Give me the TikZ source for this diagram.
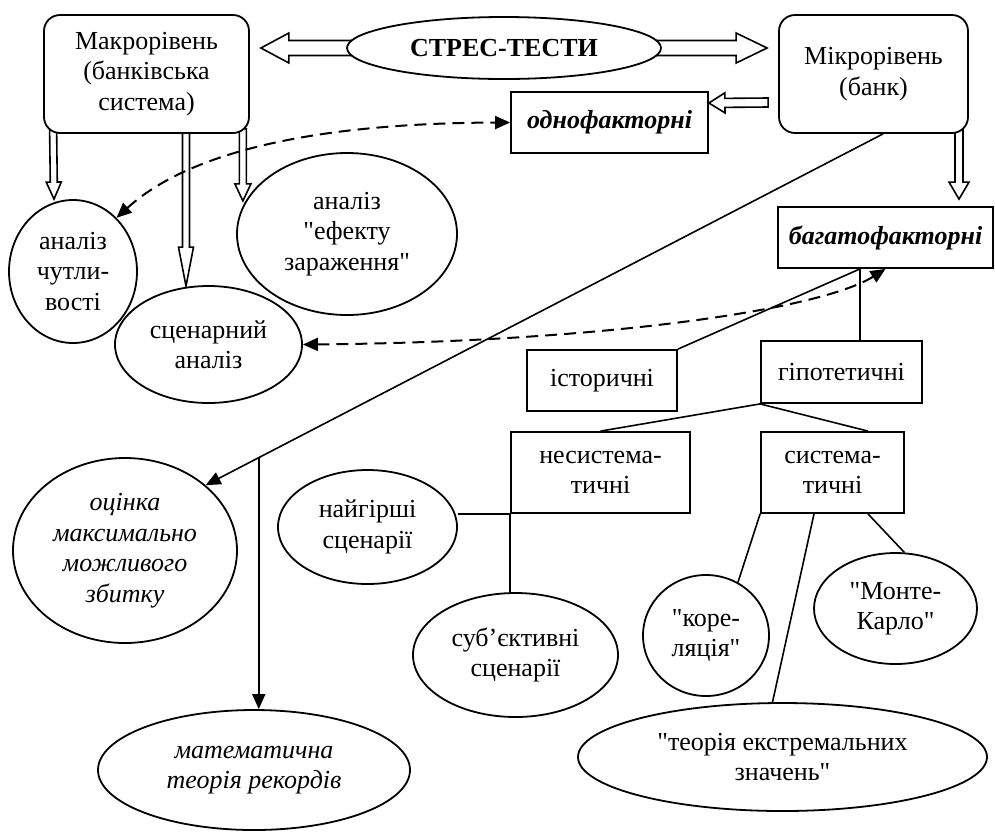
\documentclass[tikz,border=0pt]{standalone}
\usepackage{fontspec}
\setmainfont{Liberation Serif}[Ligatures=TeXOff]
\usetikzlibrary{shapes.geometric,arrows.meta,calc,backgrounds}
\newcommand{\dfont}{\fontsize{26}{30.5}\selectfont}
% hollow (block) arrow: #1 start, #2 tip, #3 shaft half width, #4 head half width, #5 head length
\newcommand{\fatarrow}[5]{%
  \coordinate (faA) at #1;
  \coordinate (faT) at #2;
  \coordinate (faB) at ($(faT)!#5!(faA)$);
  \draw[fatstyle] ($(faA)!#3!90:(faT)$) -- ($(faB)!#3!90:(faT)$) -- ($(faB)!#4!90:(faT)$)
    -- (faT) -- ($(faB)!#4!-90:(faT)$) -- ($(faB)!#3!-90:(faT)$) -- ($(faA)!#3!-90:(faT)$) -- cycle;
}
\begin{document}
\begin{tikzpicture}[x=1pt,y=-1pt,
  sqbox/.style={draw, line width=1.8pt, fill=white, inner sep=0pt, align=center, rectangle, font=\dfont},
  rbox/.style={sqbox, rounded corners=16pt},
  ovalnode/.style={draw, line width=1.8pt, fill=white, inner sep=0pt, align=center, ellipse, font=\dfont},
  conn/.style={line width=1.6pt},
  fatstyle/.style={draw, line width=1.6pt, fill=white, line join=miter},
  arr/.style={-{Triangle[length=15pt,width=13pt]}},
  darr/.style={{Triangle[length=15pt,width=13pt]}-{Triangle[length=15pt,width=13pt]}, dash pattern=on 12pt off 7pt, line width=2pt}
]
\useasboundingbox (0,0) rectangle (995,831);

% top level
\node[rbox, minimum width=205pt, minimum height=118pt] (macro) at (146.5,74) {Макрорівень\\(банківська\\система)};
\node[ovalnode, minimum width=314pt, minimum height=62pt, font=\dfont\bfseries] (stress) at (504,48) {СТРЕС-ТЕСТИ};
\node[rbox, minimum width=189pt, minimum height=118pt] (micro) at (873.5,74) {Мікрорівень\\(банк)};
\node[sqbox, minimum width=197pt, minimum height=61pt, font=\dfont\bfseries\itshape] (odno) at (609.5,122.5) {однофакторні};
\node[sqbox, minimum width=215pt, minimum height=61pt, font=\dfont\bfseries\itshape] (bagato) at (885.5,237.5) {багатофакторні};

% macro level methods
\node[ovalnode, minimum width=128pt, minimum height=143pt] (chutl) at (73,271.5) {аналіз\\чутли-\\вості};
\node[ovalnode, minimum width=187pt, minimum height=117pt] (scen) at (208.5,344.5) {сценарний\\аналіз};
\node[ovalnode, minimum width=220pt, minimum height=162pt] (efekt) at (347,234) {аналіз\\"ефекту\\зараження"};
\node[ovalnode, minimum width=224pt, minimum height=185pt, font=\dfont\itshape] (ocinka) at (125,550.5) {оцінка\\максимально\\можливого\\збитку};
\node[ovalnode, minimum width=312pt, minimum height=120pt, font=\dfont\itshape] (matem) at (254,770) {математична\\теорія рекордів};

% micro tree
\node[sqbox, minimum width=150pt, minimum height=61pt] (histor) at (602,380.5) {історичні};
\node[sqbox, minimum width=161pt, minimum height=62pt] (hypo) at (841.5,372) {гіпотетичні};
\node[sqbox, minimum width=179pt, minimum height=81pt] (nesys) at (600.5,472.5) {несистема-\\тичні};
\node[sqbox, minimum width=143pt, minimum height=81pt] (sys) at (832.5,472.5) {система-\\тичні};
\node[ovalnode, minimum width=179pt, minimum height=114pt] (najg) at (367.5,527) {найгірші\\сценарії};
\node[ovalnode, minimum width=205pt, minimum height=124pt] (subj) at (515.5,655) {суб’єктивні\\сценарії};
\node[ovalnode, minimum width=126pt, minimum height=121pt] (kore) at (706,635.5) {"коре-\\ляція"};
\node[ovalnode, minimum width=163pt, minimum height=111pt] (monte) at (895.5,608.5) {"Монте-\\Карло"};
\node[ovalnode, minimum width=409pt, minimum height=108pt] (teor) at (782.5,757) {"теорія екстремальних\\значень"};

\begin{scope}[on background layer]
  % hollow arrows
  \fatarrow{($(stress.west)+(20,0)$)}{($(macro.east |- stress.west)+(11,0)$)}{7.5pt}{15pt}{28pt}
  \fatarrow{($(stress.east)+(-20,0)$)}{($(micro.west |- stress.east)+(-11,0)$)}{7.5pt}{15pt}{31pt}
  \fatarrow{($(micro.west)+(-10,28.5)$)}{($(odno.east)+(0,-19.5)$)}{4.5pt}{10pt}{16pt}
  \fatarrow{($(micro.south)+(85.5,-5)$)}{($(bagato.north)+(73.5,-7)$)}{4pt}{10pt}{17pt}
  \fatarrow{($(macro.south west)+(10,-5)$)}{($(chutl.north)+(-19,0)$)}{3.5pt}{7.5pt}{17pt}
  \fatarrow{($(macro.south)+(39.5,-5)$)}{($(scen.north)+(-22.5,1)$)}{3.5pt}{7.5pt}{39pt}
  \fatarrow{($(macro.south east)+(-7,-5)$)}{($(macro.south east)+(-7,67)$)}{3.5pt}{8pt}{17pt}

  % dashed double arrows
  \draw[darr] (chutl.51) .. controls (200,142) and (350,123) .. (odno.west);
  \draw[darr] (scen.east) .. controls (600,342) and (820,310) .. (bagato.south);

  % solid arrows
  \coordinate (mstart) at ($(micro.south)+(9.5,0)$);
  \draw[conn, arr] (mstart) -- (ocinka.39);
  \coordinate (branch) at ($(mstart)!0.9216!(ocinka.39)$);
  \draw[conn, arr] (branch) -- (branch |- matem.north);

  % tree lines
  \coordinate (bj) at ($(bagato.south)+(-25.5,0)$);
  \draw[conn] (bj) -- (histor.north east);
  \draw[conn] (bj) -- (bj |- hypo.north);
  \draw[conn] (hypo.south west) -- (nesys.north);
  \draw[conn] (hypo.south west) -- ($(sys.north)+(35.5,0)$);
  \draw[conn] (nesys.south west) -- (najg.east |- nesys.south west);
  \draw[conn] (nesys.south west) -- (nesys.south west |- subj.north);
  \draw[conn] (sys.south west) -- (kore.59);
  \draw[conn] ($(sys.south)+(-18.5,0)$) -- ($(teor.north)+(-10,0)$);
  \draw[conn] ($(sys.south)+(35.5,0)$) -- (monte.81);
\end{scope}
\end{tikzpicture}
\end{document}
